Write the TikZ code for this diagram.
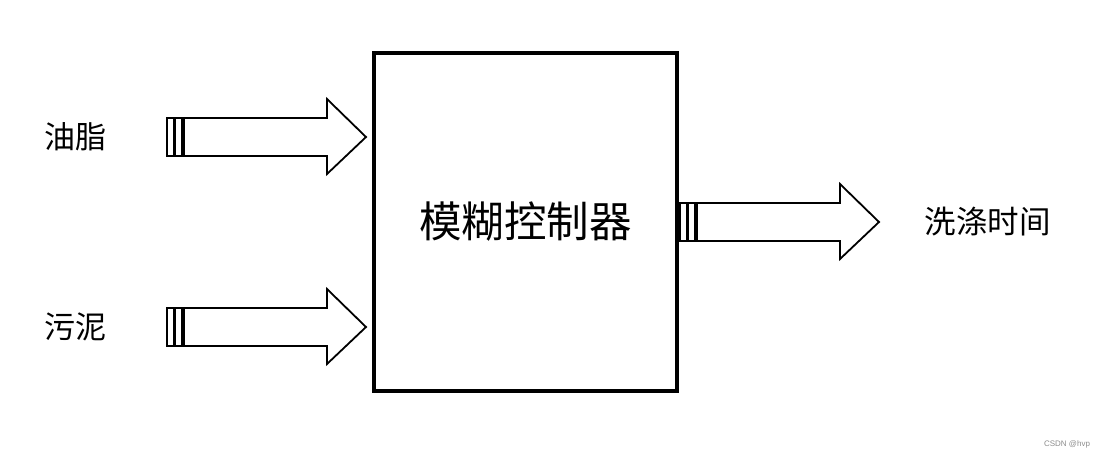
\documentclass[tikz,border=0pt]{standalone}
\usepackage{fontspec}
\setmainfont{Liberation Sans}
\newfontfamily\cjk{Noto Sans CJK SC}
\tikzset{
  lbl/.style={inner sep=0pt, font=\cjk\fontsize{31}{33}\selectfont},
  fatarrow/.pic={
    % two small bars at the tail
    \draw[line width=1.1pt] (0,-19) rectangle (7,19);
    \draw[line width=1.1pt] (8,-19) rectangle (15,19);
    % shaft and head
    \draw[line width=1.8pt, line join=miter] (17,-19) -- (160,-19) -- (160,-38) -- (199,0)
      -- (160,37) -- (160,19) -- (17,19) -- cycle;
  }
}
\begin{document}
\begin{tikzpicture}[x=1pt, y=-1pt]
\useasboundingbox (0,0) rectangle (1106,459);
% controller block
\node[draw, line width=3.2pt, minimum width=303pt, minimum height=338pt, inner sep=0pt,
  font=\cjk\fontsize{42.5}{45}\selectfont] (ctrl) at (525.5,222) {模糊控制器};
% inputs
\node[lbl] (oil) at (75,137) {油脂};
\node[lbl] (mud) at (75,327) {污泥};
\foreach \y in {137, 327} {
  \pic at (167,\y) {fatarrow};
}
% output
\pic at (680,222) {fatarrow};
\node[lbl, font=\cjk\fontsize{31.5}{33}\selectfont] (time) at (987.5,222) {洗涤时间};
% watermark
\node[inner sep=0pt, text=black!45, font=\fontsize{8}{9}\selectfont] (mark) at (1067,444) {CSDN @hvp};
\end{tikzpicture}
\end{document}
